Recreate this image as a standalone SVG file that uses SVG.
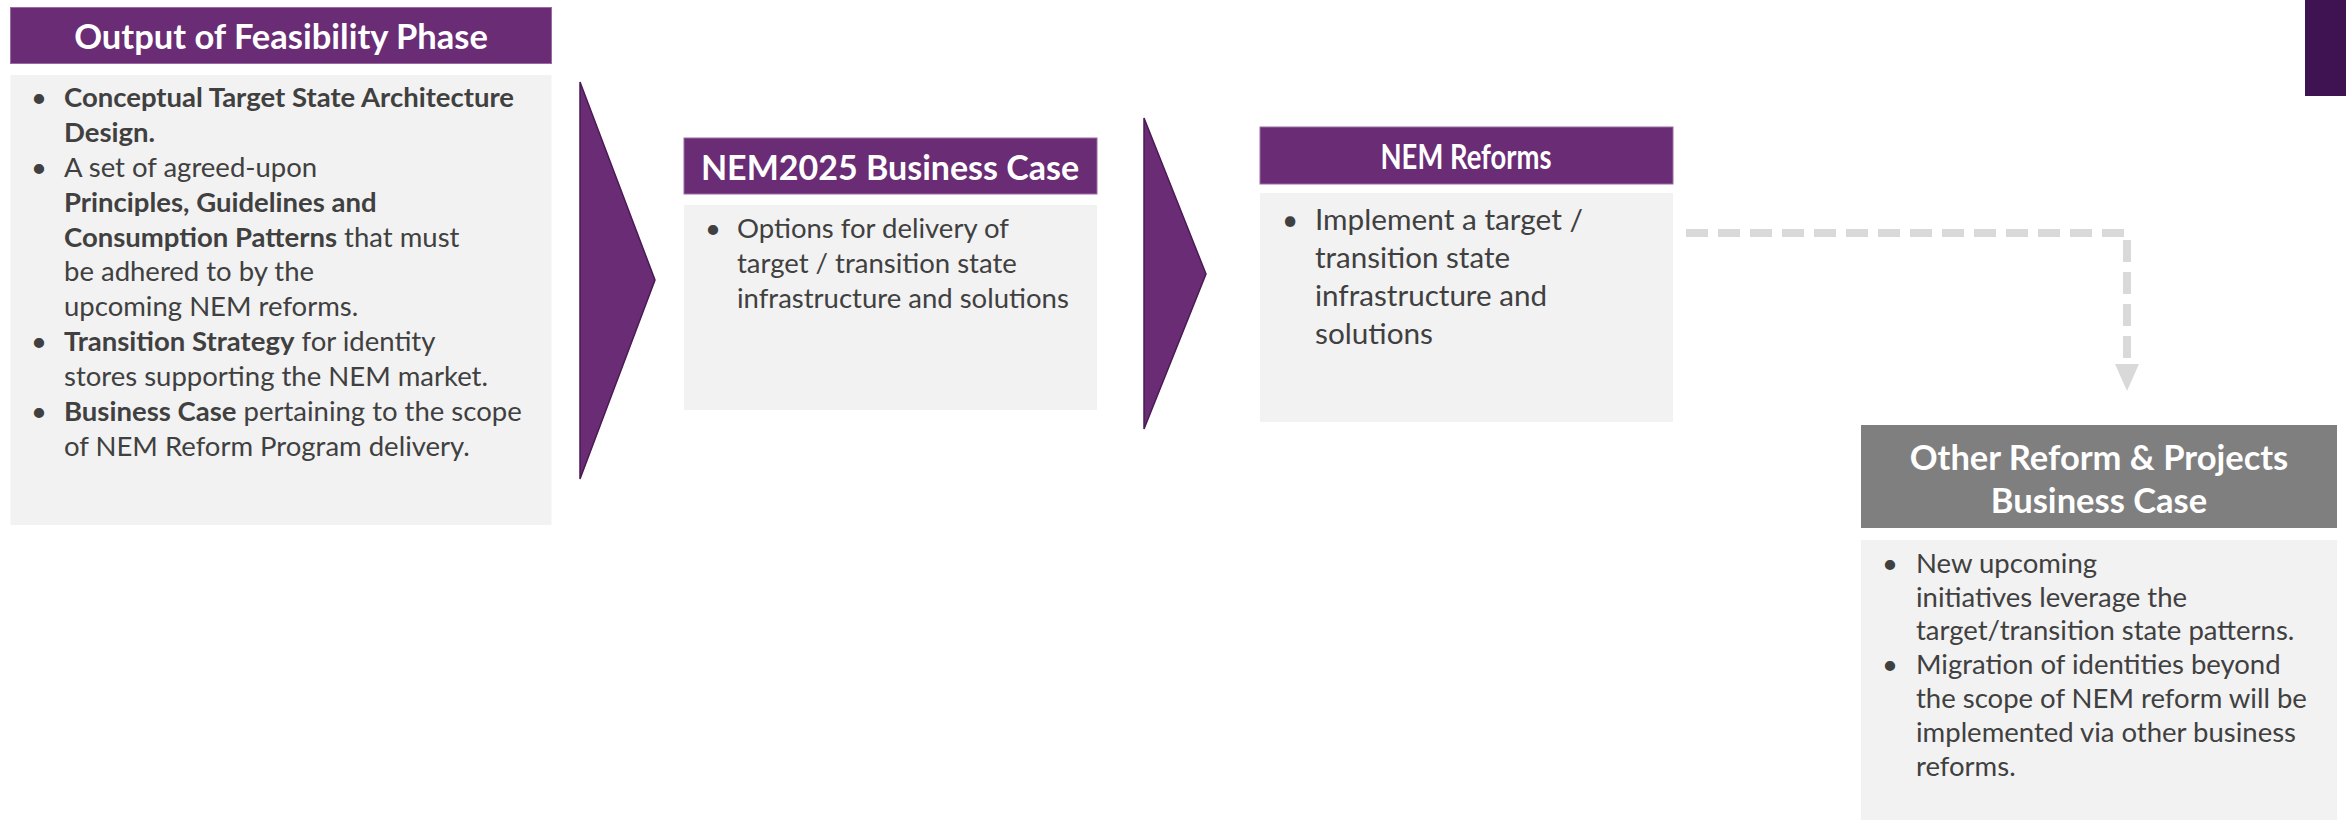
<svg xmlns="http://www.w3.org/2000/svg" width="2346" height="820" viewBox="0 0 2346 820">
<defs>
<style>
.hdr{fill:#6a2c74;stroke:#9a6aa3;stroke-width:1}
.hdrg{fill:#7f7f7f}
.body{fill:#f2f2f2}
.ht{font-family:Lato,"Open Sans",sans-serif;font-weight:bold;fill:#ffffff;text-anchor:middle;font-size:34.5px}
.bt{font-family:Lato,"Open Sans",sans-serif;fill:#404040;font-size:27.5px}
.bt3{font-family:Lato,"Open Sans",sans-serif;fill:#404040;font-size:28px}
.b{font-weight:bold}
.chev{fill:#6a2c74;stroke:#4a1a54;stroke-width:1.5}
.dash{fill:none;stroke:#d9d9d9;stroke-width:8;stroke-dasharray:22 10}
</style>
</defs>
<rect x="2305" y="0" width="41" height="96" fill="#3f1252"/>
<g id="connectors">
<polygon class="chev" points="580,82 655,280 580,479"/>
<polygon class="chev" points="1144,118 1206,274 1144,429"/>
<polyline class="dash" points="1686,233 2127,233 2127,362"/>
<polygon points="2115,364 2139,364 2127,391" fill="#d9d9d9"/>
</g>
<g id="node-feasibility">
<rect class="hdr" x="10.5" y="7.5" width="541" height="56"/>
<rect class="body" x="10.5" y="75" width="541" height="450"/>
<text class="ht" x="281" y="49">Output of Feasibility Phase</text>
<g class="bt">
<text x="31" y="107">•</text><text x="64" y="107" class="b">Conceptual Target State Architecture</text>
<text x="64" y="142" class="b">Design.</text>
<text x="31" y="177">•</text><text x="64" y="177">A set of agreed-upon</text>
<text x="64" y="212" class="b">Principles, Guidelines and</text>
<text x="64" y="247"><tspan class="b">Consumption Patterns</tspan> that must</text>
<text x="64" y="281">be adhered to by the</text>
<text x="64" y="316">upcoming NEM reforms.</text>
<text x="31" y="351">•</text><text x="64" y="351"><tspan class="b">Transition Strategy</tspan> for identity</text>
<text x="64" y="386">stores supporting the NEM market.</text>
<text x="31" y="421">•</text><text x="64" y="421"><tspan class="b">Business Case</tspan> pertaining to the scope</text>
<text x="64" y="456">of NEM Reform Program delivery.</text>
</g>
</g>
<g id="node-nem2025">
<rect class="hdr" x="684" y="138" width="413" height="56"/>
<rect class="body" x="684" y="205" width="413" height="205"/>
<text class="ht" x="890" y="180" style="font-size:34px">NEM2025 Business Case</text>
<g class="bt">
<text x="705" y="238">•</text><text x="737" y="238">Options for delivery of</text>
<text x="737" y="273">target / transition state</text>
<text x="737" y="308">infrastructure and solutions</text>
</g>
</g>
<g id="node-nemreforms">
<rect class="hdr" x="1260" y="127" width="413" height="57"/>
<rect class="body" x="1260" y="193" width="413" height="229"/>
<text class="ht" x="1466" y="169" textLength="171" lengthAdjust="spacingAndGlyphs">NEM Reforms</text>
<g class="bt3">
<text x="1282" y="230">•</text><text x="1315" y="230" textLength="268" lengthAdjust="spacingAndGlyphs">Implement a target /</text>
<text x="1315" y="268" textLength="195" lengthAdjust="spacingAndGlyphs">transition state</text>
<text x="1315" y="306" textLength="232" lengthAdjust="spacingAndGlyphs">infrastructure and</text>
<text x="1315" y="344" textLength="118" lengthAdjust="spacingAndGlyphs">solutions</text>
</g>
</g>
<g id="node-other">
<rect class="hdrg" x="1861" y="425" width="476" height="103"/>
<rect class="body" x="1861" y="540" width="476" height="280"/>
<text class="ht" x="2099" y="470">Other Reform &amp; Projects</text>
<text class="ht" x="2099" y="513">Business Case</text>
<g class="bt">
<text x="1882" y="573">•</text><text x="1916" y="573">New upcoming</text>
<text x="1916" y="607">initiatives leverage the</text>
<text x="1916" y="640">target/transition state patterns.</text>
<text x="1882" y="674">•</text><text x="1916" y="674">Migration of identities beyond</text>
<text x="1916" y="708">the scope of NEM reform will be</text>
<text x="1916" y="742">implemented via other business</text>
<text x="1916" y="776">reforms.</text>
</g>
</g>
</svg>
